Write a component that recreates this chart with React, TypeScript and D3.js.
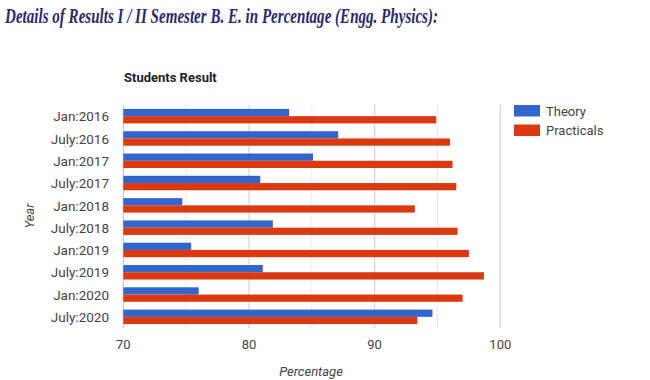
import React from "react";
import * as d3 from "d3";

const categories = ["Jan:2016","July:2016","Jan:2017","July:2017","Jan:2018","July:2018","Jan:2019","July:2019","Jan:2020","July:2020"];
const theory = [83.2, 87.1, 85.1, 80.9, 74.7, 81.9, 75.4, 81.1, 76.0, 94.6];
const practicals = [94.9, 96.0, 96.2, 96.5, 93.2, 96.6, 97.5, 98.7, 97.0, 93.4];
const seriesNames = ["Theory", "Practicals"];
const majorTicks = [70, 80, 90, 100];
const minorTicks = [75, 85, 95];
const colors = ["#3366cc", "#dc3912"];

export default function App() {
  const W = 650, H = 380;
  const x = d3.scaleLinear().domain([70, 100]).range([123.3, 500.3]);
  const y = d3.scaleBand<string>().domain(categories).range([105, 328]).paddingInner(0.35).paddingOuter(0.175);
  const sub = d3.scaleBand<string>().domain(seriesNames).range([0, y.bandwidth()]);
  const series = [theory, practicals];
  const font = "Roboto, Arial, 'Liberation Sans', sans-serif";
  return (
    <svg width={W} height={H} style={{ position: "absolute", left: 0, top: 0, background: "#fff" }}>
      <text x={5} y={23} textLength={433} lengthAdjust="spacingAndGlyphs" fontFamily="'Liberation Serif', 'Times New Roman', serif" fontStyle="italic" fontWeight="bold" fontSize={20} fill="#2b2870">
        Details of Results I / II Semester B. E. in Percentage (Engg. Physics):
      </text>
      <text x={124} y={82} fontFamily={font} fontWeight="bold" fontSize={13} fill="#222">Students Result</text>
      {minorTicks.map(t => (
        <line key={"m" + t} x1={x(t)} x2={x(t)} y1={105} y2={328} stroke="#ebebeb" strokeWidth={1} />
      ))}
      {majorTicks.map(t => (
        <line key={"g" + t} x1={x(t)} x2={x(t)} y1={105} y2={328} stroke={t === 70 ? "#bbb" : "#ccc"} strokeWidth={1} />
      ))}
      {series.map((vals, si) => vals.map((v, i) => (
        <rect key={si + "-" + i} x={x(70)} y={(y(categories[i]) as number) + (sub(seriesNames[si]) as number)}
          width={x(v) - x(70)} height={sub.bandwidth()} fill={colors[si]} />
      )))}
      {categories.map(c => (
        <text key={c} x={109} y={(y(c) as number) + y.bandwidth() / 2 + 0.5} dy="0.35em" textAnchor="end" fontFamily={font} fontSize={13.5} fill="#444">{c}</text>
      ))}
      {majorTicks.map(t => (
        <text key={"t" + t} x={x(t)} y={349} textAnchor="middle" fontFamily={font} fontSize={13} fill="#444">{t}</text>
      ))}
      <text x={311} y={376} textAnchor="middle" fontFamily={font} fontStyle="italic" fontSize={13} fill="#444">Percentage</text>
      <text transform="translate(34,216) rotate(-90)" textAnchor="middle" fontFamily={font} fontStyle="italic" fontSize={13} fill="#444">Year</text>
      {seriesNames.map((s, i) => (
        <g key={s}>
          <rect x={514} y={105 + i * 19.5} width={26} height={11.5} fill={colors[i]} />
          <text x={546} y={105 + i * 19.5 + 6} dy="0.35em" fontFamily={font} fontSize={13} fill="#444">{s}</text>
        </g>
      ))}
    </svg>
  );
}
